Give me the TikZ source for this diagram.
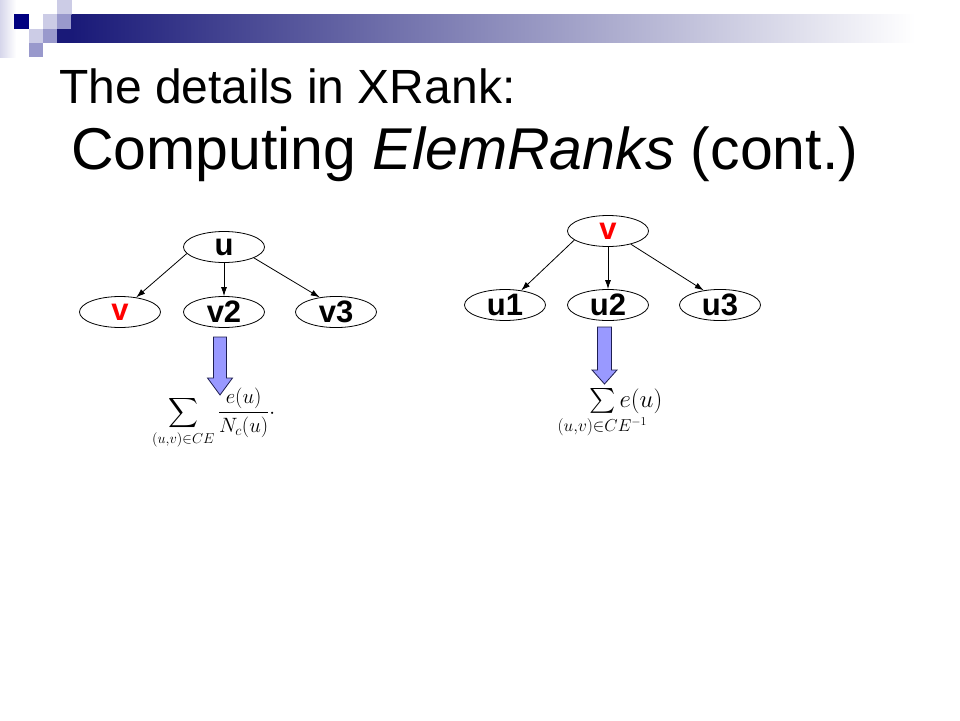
\documentclass[tikz,border=0pt]{standalone}
\usepackage{exscale}
\usepackage{mathtools}
\usepackage{fontspec}
\setmainfont{Liberation Sans}
\usetikzlibrary{shapes.geometric,arrows.meta}
\definecolor{bannernavy}{RGB}{0,0,128}
\definecolor{bandnavy}{RGB}{25,25,120}
\definecolor{bandmid}{RGB}{190,190,220}
\definecolor{bannermid}{RGB}{153,153,204}
\definecolor{bannerlight}{RGB}{204,204,230}
\definecolor{arrowfill}{RGB}{153,153,255}
\definecolor{arrowline}{RGB}{30,30,80}
\definecolor{nodered}{RGB}{255,0,0}
\begin{document}
\begin{tikzpicture}[x=1pt,y=-1pt,>={Latex[length=9pt,width=6pt]},
	every node/.style={inner sep=0pt},
	treenode/.style={ellipse,draw,line width=0.8pt,minimum width=81pt,minimum height=31pt,
		font=\bfseries\fontsize{31}{36}\selectfont},
	redlabel/.style={text=nodered},
	blockarrow/.style={draw=arrowline,fill=arrowfill,line width=0.8pt},
	edge/.style={->,line width=0.8pt}]

	\fill[white] (0,0) rectangle (960,720);
	\useasboundingbox (0,0) rectangle (960,720);

	% banner squares
	\shade[left color=bannerlight!80,right color=white] (0,0) rectangle (16,57);
	\fill[bannerlight] (57.2,0) rectangle (71.5,14.3);
	\fill[bannernavy] (14.3,14.3) rectangle (28.6,28.6);
	\fill[bannerlight] (42.9,14.3) rectangle (57.2,28.6);
	\fill[bannermid] (57.2,14.3) rectangle (71.5,28.6);
	\fill[bannerlight] (28.6,28.6) rectangle (42.9,42.9);
	\fill[bannermid] (42.9,28.6) rectangle (57.2,42.9);
	\fill[bandnavy] (57.2,28.6) rectangle (71.5,42.9);
	\fill[bannermid] (28.6,42.9) rectangle (42.9,57.2);
	\shade[left color=bandnavy,middle color=bandmid,right color=white] (71.5,14.3) rectangle (915,42.9);

	% titles
	\node[anchor=base west,font=\fontsize{48}{58}\selectfont] (title) at (59,103) {The details in XRank:};
	\node[anchor=base west,font=\fontsize{59}{70}\selectfont] (subtitle) at (71,169) {Computing \textit{ElemRanks} (cont.)};

	% left tree
	\node[treenode] (lu) at (224,247) {u};
	\node[treenode,redlabel] (lv) at (120,312) {v};
	\node[treenode] (lv2) at (224,312) {v2};
	\node[treenode] (lv3) at (336,312) {v3};

	\draw[edge] (lu.190) -- (lv.42);
	\draw[edge] (lu) -- (lv2);
	\draw[edge] (lu.340) -- (lv3.138);

	% right tree
	\node[treenode,redlabel] (rv) at (608,231) {v};
	\node[treenode] (ru1) at (505,305) {u1};
	\node[treenode] (ru2) at (608,305) {u2};
	\node[treenode] (ru3) at (720,305) {u3};

	\draw[edge] (rv.195) -- (ru1.42);
	\draw[edge] (rv) -- (ru2);
	\draw[edge] (rv.330) -- (ru3.138);

	% block arrows
	\draw[blockarrow] (213.5,337) -- (226.5,337) -- (226.5,378) -- (232.5,378) -- (220,395) -- (207.5,378) -- (213.5,378) -- cycle;
	\draw[blockarrow] (597.5,327) -- (611.5,327) -- (611.5,370) -- (617,370) -- (604.5,384) -- (592,370) -- (597.5,370) -- cycle;

	% formulas
	\node[anchor=base west] (lsum) at (152,418) {\fontsize{19.5}{23}\selectfont$\displaystyle\sum_{(u,v)\in CE}\frac{e(u)}{N_c(u)}{\cdot}$};
	\node[anchor=base west] (rsum) at (589,407) {\fontsize{23}{27}\selectfont$\sum\limits_{\mathclap{(u,v)\in CE^{-1}}}e(u)$};
\end{tikzpicture}
\end{document}
